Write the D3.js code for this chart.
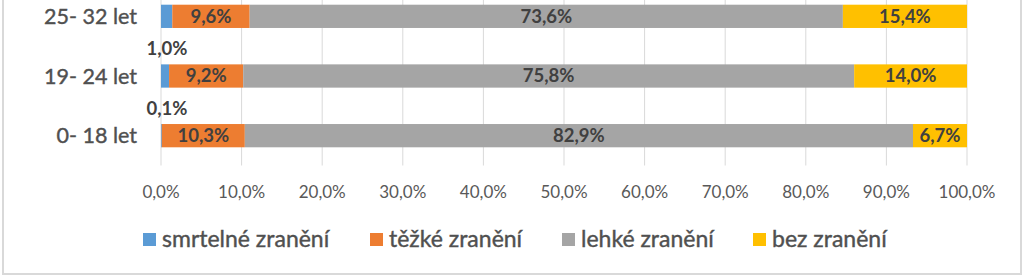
<!DOCTYPE html>
<html>
<head>
<meta charset="utf-8">
<script src="https://cdn.jsdelivr.net/npm/d3@7"></script>
<style>
  body { margin: 0; background: #fff; }
  svg { display: block; font-family: Lato, "Open Sans", sans-serif; }
</style>
</head>
<body>
<svg id="chart" width="1024" height="277"></svg>
<script>
const categories = ['25- 32 let', '19- 24 let', '0- 18 let']
const seriesNames = ['smrtelné zranění', 'těžké zranění', 'lehké zranění', 'bez zranění']
const smrtelne = [1.4, 1.0, 0.1]
const tezke = [9.6, 9.2, 10.3]
const lehke = [73.6, 75.8, 82.9]
const bez = [15.4, 14.0, 6.7]
const xTicks = [0, 10, 20, 30, 40, 50, 60, 70, 80, 90, 100]
const colors = ['#5b9bd5', '#ed7d31', '#a5a5a5', '#ffc000']

const svg = d3.select('#chart')
const fmt = v => v.toFixed(1).replace('.', ',') + '%'

// ramecek
svg.append('rect')
  .attr('x', 3).attr('y', -10)
  .attr('width', 1018).attr('height', 284)
  .style('fill', 'none')
  .style('stroke', '#d9d9d9')
  .style('stroke-width', 2)

const x = d3.scaleLinear().domain([0, 100]).range([161, 967])
const y = d3.scaleBand().domain(categories).range([-13.5, 165.5]).paddingInner(0.61).paddingOuter(0.305)

// mrizka
svg.append('g').selectAll('line')
  .data(xTicks)
  .enter()
  .append('line')
  .attr('x1', d => x(d)).attr('x2', d => x(d))
  .attr('y1', -13.5).attr('y2', 165.5)
  .style('stroke', '#d9d9d9')
  .style('stroke-width', 1)

const rows = categories.map((c, i) => ({
  cat: c,
  'smrtelné zranění': smrtelne[i],
  'těžké zranění': tezke[i],
  'lehké zranění': lehke[i],
  'bez zranění': bez[i]
}))
const stacked = d3.stack().keys(seriesNames)(rows)

const layer = svg.append('g').selectAll('g.layer')
  .data(stacked)
  .enter()
  .append('g')
  .classed('layer', true)
  .style('fill', (d, i) => colors[i])

layer.selectAll('rect')
  .data(d => d)
  .enter()
  .append('rect')
  .attr('x', d => x(d[0]))
  .attr('width', d => x(d[1]) - x(d[0]))
  .attr('y', d => y(d.data.cat))
  .attr('height', y.bandwidth())

// popisky hodnot (smrtelne nad pruhem, ty nahore jsou mimo obrazek)
stacked.forEach((s, si) => {
  const labY = d => y(d.data.cat) + y.bandwidth() / 2 + (si === 0 ? -27 : 0)
  svg.append('g').selectAll('text')
    .data(s.filter(d => labY(d) > 10))
    .enter()
    .append('text')
    .attr('x', d => si === 0 ? x(0) + 6 : (x(d[0]) + x(d[1])) / 2)
    .attr('y', labY)
    .attr('dy', '0.35em')
    .attr('text-anchor', 'middle')
    .style('font-size', '18.5px')
    .style('font-weight', 'bold')
    .style('fill', '#404040')
    .text(d => fmt(d[1] - d[0]))
})

// kategorie
svg.append('g').selectAll('text')
  .data(categories)
  .enter()
  .append('text')
  .attr('x', 137)
  .attr('y', d => y(d) + y.bandwidth() / 2)
  .attr('dy', '0.35em')
  .attr('text-anchor', 'end')
  .style('font-size', '21.5px')
  .style('fill', '#505050')
  .style('stroke', '#505050')
  .style('stroke-width', 0.4)
  .text(d => d)

// osa x
svg.append('g').selectAll('text')
  .data(xTicks)
  .enter()
  .append('text')
  .attr('x', d => x(d))
  .attr('y', 192)
  .attr('dy', '0.35em')
  .attr('text-anchor', 'middle')
  .style('font-size', '17px')
  .style('fill', '#595959')
  .text(d => fmt(d))

// legenda
const legendX = [143, 370, 562, 753]
const lg = svg.append('g').selectAll('g.leg')
  .data(seriesNames)
  .enter()
  .append('g')
  .attr('transform', (d, i) => `translate(${legendX[i]}, 239)`)
lg.append('rect')
  .attr('x', 0).attr('y', -6)
  .attr('width', 13).attr('height', 13)
  .style('fill', (d, i) => colors[i])
lg.append('text')
  .attr('x', 19)
  .attr('dy', '0.35em')
  .style('font-size', '23px')
  .style('fill', '#505050')
  .style('stroke', '#505050')
  .style('stroke-width', 0.4)
  .text(d => d)
</script>
</body>
</html>
